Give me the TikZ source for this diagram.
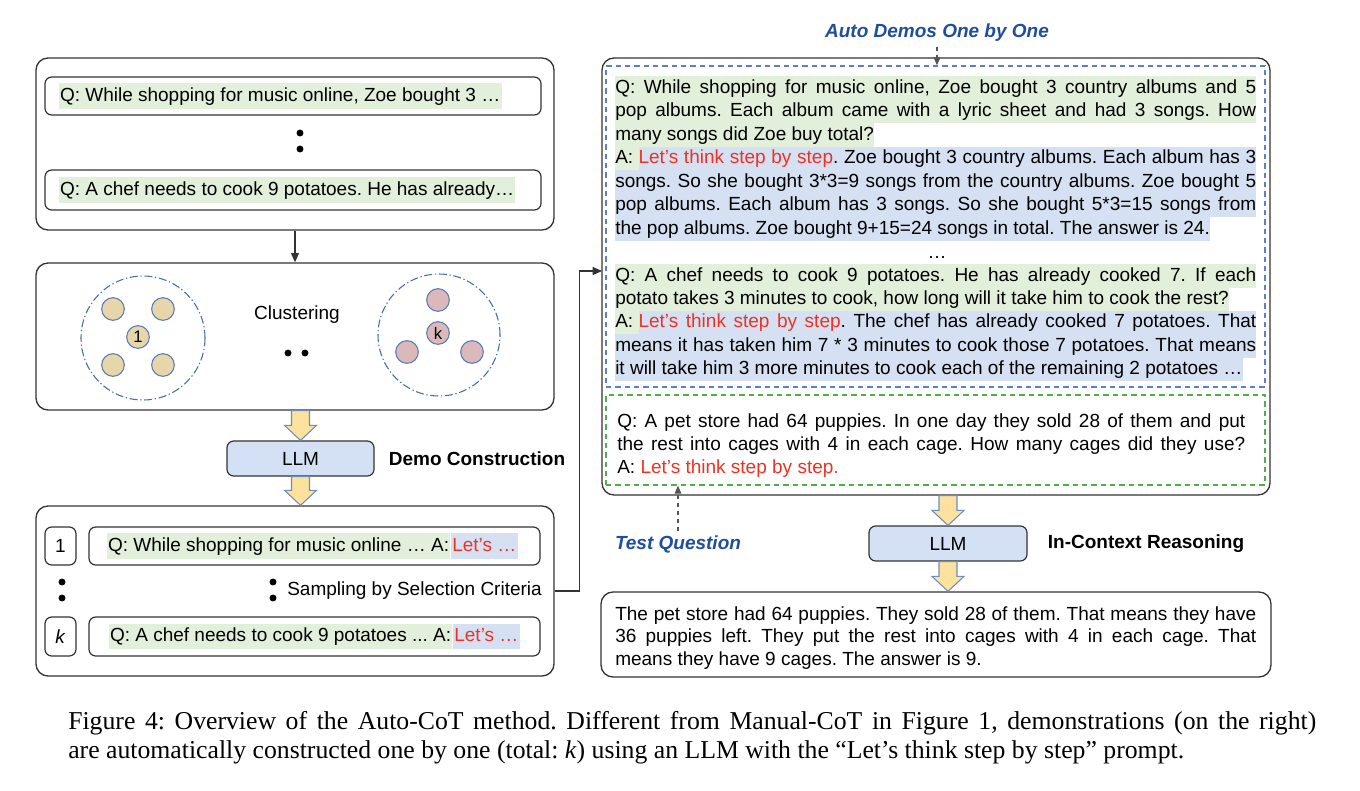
\documentclass[tikz,border=0pt]{standalone}
\usepackage{fontspec}
\setmainfont{Liberation Sans}
\newfontfamily\capfont{Liberation Serif}
\usetikzlibrary{positioning,calc,arrows.meta}
\frenchspacing

\definecolor{hlgreen}{HTML}{E2EFDA}
\definecolor{hlblue}{HTML}{D5E1F3}
\definecolor{llmblue}{HTML}{D4E1F4}
\definecolor{arrowyellow}{HTML}{FCE29C}
\definecolor{arrowedge}{HTML}{6C8EBF}
\definecolor{lets}{HTML}{EB3324}
\definecolor{labelblue}{HTML}{1F4E9C}
\definecolor{dashblue}{HTML}{5B80C8}
\definecolor{dashgreen}{HTML}{4EAE50}
\definecolor{tan}{HTML}{E7D6AA}
\definecolor{pink}{HTML}{DBB9BA}
\definecolor{seededge}{HTML}{5A7DB8}
\definecolor{ringblue}{HTML}{4A6CA8}
\definecolor{edgegray}{HTML}{333333}
\definecolor{hintgray}{HTML}{555555}

\setlength{\fboxsep}{0pt}
\newcommand{\basefont}{\fontsize{14.25pt}{17.5pt}\selectfont}
\newcommand{\rowstrut}{\rule[-5pt]{0pt}{17.5pt}}
\newcommand{\fullrow}[1]{\makebox[480.75pt][s]{#1}}
\newcommand{\testrow}[1]{\makebox[471pt][s]{#1}}
\newcommand{\greenA}{\colorbox{hlgreen}{\rowstrut A:\ }}
% block arrow straight down, from #1 to #2
\newcommand{\fatarrow}[2]{%
  \draw[fat] let \p1=(#1), \p2=(#2) in
    (\x1-6.75pt,\y1) -- (\x1-6.75pt,\y2+11.25pt) -- (\x1-12pt,\y2+11.25pt)
    -- (\x1,\y2) -- (\x1+12pt,\y2+11.25pt) -- (\x1+6.75pt,\y2+11.25pt)
    -- (\x1+6.75pt,\y1) -- cycle;}

\tikzset{
  bigbox/.style={draw=edgegray, line width=1pt, rounded corners=9pt},
  smallbox/.style={draw=edgegray, line width=0.9pt, rounded corners=5pt},
  sz/.style 2 args={minimum width=#1*0.75pt, minimum height=#2*0.75pt, inner sep=0pt},
  qtext/.style={fill=hlgreen, inner xsep=1pt, inner ysep=1.5pt, text height=12pt, text depth=4pt},
  atext/.style={qtext, fill=hlblue, text=lets},
  row/.style={anchor=base west, inner sep=0pt, text height=12.5pt, text depth=5pt},
  demobox/.style={draw=dashblue, line width=1pt, dash pattern=on 4pt off 3pt},
  testbox/.style={draw=dashgreen, line width=1pt, dash pattern=on 4pt off 3pt},
  ring/.style={circle, draw=ringblue, line width=0.8pt, dash pattern=on 6pt off 2pt on 1pt off 2pt},
  seed/.style={circle, draw=seededge, line width=0.8pt, fill=tan, minimum size=17pt,
    inner sep=0pt, font=\fontsize{12.5pt}{12.5pt}\selectfont},
  llm/.style={smallbox, fill=llmblue},
  tag/.style={font=\basefont\bfseries, inner sep=0pt},
  cue/.style={font=\basefont\bfseries\itshape, text=labelblue},
  conn/.style={draw=edgegray, line width=0.8pt, -{Triangle[length=7pt,width=6pt]}},
  hint/.style={draw=hintgray, line width=0.8pt, dashed, -{Triangle[length=6pt,width=5pt]}},
  fat/.style={fill=arrowyellow, draw=arrowedge, line width=0.8pt},
  caption/.style={font=\capfont\fontsize{19.3pt}{22pt}\selectfont, inner sep=0pt}
}

\begin{document}
\begin{tikzpicture}[x=0.75pt,y=-0.75pt,font=\basefont]
\useasboundingbox (0,0) rectangle (1360,790);

% Question pool
\node[bigbox, sz={518}{172}] (pool) at (295,144) {};
\node[smallbox, sz={496}{38}] (qa) at (293,96) {};
\node[qtext, right=10.5pt of qa.west] (qatxt) {Q: While shopping for music online, Zoe bought 3 …};
\node[smallbox, sz={496}{40}] (qb) at (293,190) {};
\node[qtext, right=10.5pt of qb.west] (qbtxt) {Q: A chef needs to cook 9 potatoes. He has already…};
\fill (300,133) circle (2.6pt);
\fill (300,149) circle (2.6pt);

% Clustering
\node[bigbox, sz={518}{147}] (clus) at (295,336.5) {};
\draw[conn] (pool.south) -- (clus.north);
\node[ring, minimum size=93pt] (grp1) at (143,338) {};
\node[seed] (s1a) at (113,309) {};
\node[seed] (s1b) at (163,309) {};
\node[seed] (s1c) at (113,365) {};
\node[seed] (s1d) at (163,365) {};
\node[seed] (c1) at (138,337) {1};
\node[ring, minimum size=91.5pt] (grpk) at (439,335) {};
\node[seed, fill=pink] (ska) at (438,300) {};
\node[seed, fill=pink] (skb) at (407,352) {};
\node[seed, fill=pink] (skc) at (472,352) {};
\node[seed, fill=pink] (ck) at (438,333) {k};
\node (clustag) at (297,315) {Clustering};
\fill (288,353) circle (2.6pt);
\fill (305,353) circle (2.6pt);

% Demo construction
\node[llm, sz={147}{35}] (llmL) at (300.5,458.5) {LLM};
\node[tag, right=10.5pt of llmL] (demotag) {Demo Construction};
\fatarrow{llmL.north |- clus.south}{llmL.north}

\node[bigbox, sz={518}{170}] (demos) at (295,591) {};
\fatarrow{llmL.south}{llmL.south |- demos.north}
\node[smallbox, sz={31}{38}] (n1) at (60.5,546) {1};
\node[smallbox, sz={451}{38}] (row1) at (314.5,546) {};
\node[qtext, right=13.5pt of row1.west] (row1q) {Q: While shopping for music online … A:\ };
\node[atext, right=0pt of row1q] (row1a) {Let’s …};
\node[smallbox, sz={31}{39}] (nk) at (60.5,636.5) {\textit{k}};
\node[smallbox, sz={451}{39}] (rowk) at (314.5,636.5) {};
\node[qtext, right=15pt of rowk.west] (rowkq) {Q: A chef needs to cook 9 potatoes ... A:\ };
\node[atext, right=0pt of rowkq] (rowka) {Let’s …};
\fill (62,582) circle (2.6pt);
\fill (62,598) circle (2.6pt);
\fill (273,582) circle (2.6pt);
\fill (273,598) circle (2.6pt);
\node[anchor=west, inner sep=0pt] (sampletag) at (287,591) {Sampling by Selection Criteria};

% Demos one by one + test question
\node[bigbox, sz={668}{437}] (board) at (936,276.5) {};
\node[demobox, sz={659}{321}] (auto) at (935.5,226.5) {};
\node[testbox, sz={659}{90}] (test) at (935.5,440) {};
\coordinate (demoin) at (602,271);
\draw[conn] (demos.east) -- ++(25,0) |- (demoin);

\node[cue] (autolbl) at (937,33) {Auto Demos One by One};
\draw[hint] (autolbl.south) -- (autolbl.south |- auto.north);

\node[row, fill=hlgreen] (d0) at (615,93) {\fullrow{Q: While shopping for music online, Zoe bought 3 country albums and 5}};
\node[row, fill=hlgreen] (d1) at (615,116.5) {\fullrow{pop albums. Each album came with a lyric sheet and had 3 songs. How}};
\node[row, fill=hlgreen] (d2) at (615,140) {many songs did Zoe buy total?};
\node[row, fill=hlblue] (d3) at (615,163.5) {\fullrow{\greenA\textcolor{lets}{Let’s think step by step}. Zoe bought 3 country albums. Each album has 3}};
\node[row, fill=hlblue] (d4) at (615,187) {\fullrow{songs. So she bought 3*3=9 songs from the country albums. Zoe bought 5}};
\node[row, fill=hlblue] (d5) at (615,210.5) {\fullrow{pop albums. Each album has 3 songs. So she bought 5*3=15 songs from}};
\node[row, fill=hlblue] (d6) at (615,234) {the pop albums. Zoe bought 9+15=24 songs in total. The answer is 24.};
\node[anchor=base] (gap) at (937,258) {…};
\node[row, fill=hlgreen] (e0) at (615,281) {\fullrow{Q: A chef needs to cook 9 potatoes. He has already cooked 7. If each}};
\node[row, fill=hlgreen] (e1) at (615,304.3) {potato takes 3 minutes to cook, how long will it take him to cook the rest?};
\node[row, fill=hlblue] (e2) at (615,327.6) {\fullrow{\greenA\textcolor{lets}{Let’s think step by step}. The chef has already cooked 7 potatoes. That}};
\node[row, fill=hlblue] (e3) at (615,351) {\fullrow{means it has taken him 7 * 3 minutes to cook those 7 potatoes. That means}};
\node[row, fill=hlblue] (e4) at (615,374.3) {it will take him 3 more minutes to cook each of the remaining 2 potatoes …};

\node[row] (t0) at (617,427) {\testrow{Q: A pet store had 64 puppies. In one day they sold 28 of them and put}};
\node[row] (t1) at (617,450.5) {\testrow{the rest into cages with 4 in each cage. How many cages did they use?}};
\node[row] (t2) at (617,473) {A: \textcolor{lets}{Let’s think step by step.}};

\node[cue] (testlbl) at (678,544) {Test Question};
\draw[hint] (testlbl.north) -- (testlbl.north |- test.south);

% In-context reasoning
\node[llm, sz={158}{35}] (llmR) at (948,543.5) {LLM};
\node[tag, right=15pt of llmR] (ictag) {In-Context Reasoning};
\node[bigbox, sz={670}{85}] (answer) at (936,634.5) {};
\fatarrow{llmR.north |- board.south}{llmR.north}
\fatarrow{llmR.south}{llmR.south |- answer.north}
\node[row] (a0) at (615,620) {\fullrow{The pet store had 64 puppies. They sold 28 of them. That means they have}};
\node[row] (a1) at (615,642.5) {\fullrow{36 puppies left. They put the rest into cages with 4 in each cage. That}};
\node[row] (a2) at (615,665) {means they have 9 cages. The answer is 9.};

% Caption
\node[caption, anchor=base west] (cap1) at (68,729) {\makebox[936pt][s]{Figure 4: Overview of the Auto-CoT method. Different from Manual-CoT in Figure 1, demonstrations (on the right)}};
\node[caption, anchor=base west] (cap2) at (68,758) {are automatically constructed one by one (total: \textit{k}) using an LLM with the “Let’s think step by step” prompt.};

\end{tikzpicture}
\end{document}
